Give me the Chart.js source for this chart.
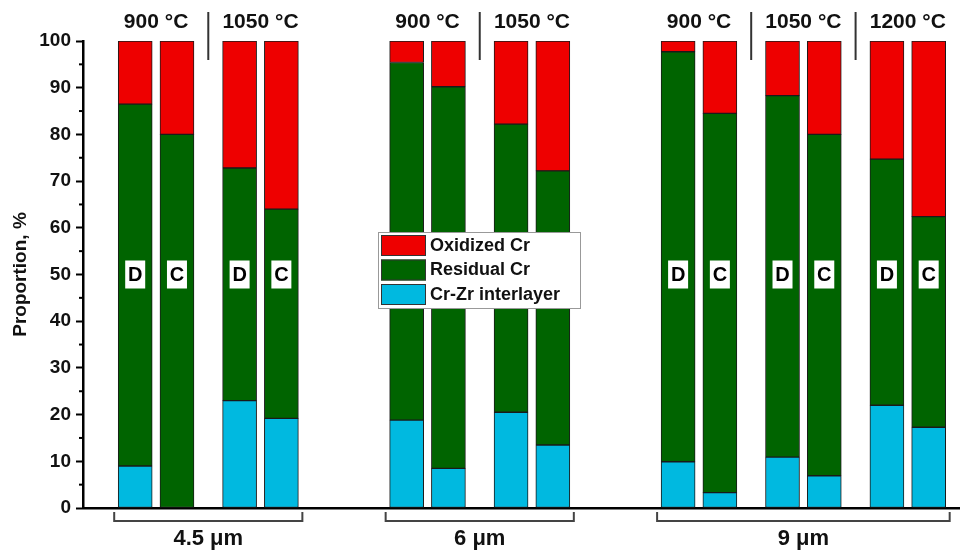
<!DOCTYPE html>
<html>
<head>
<meta charset="utf-8">
<script src="https://cdn.jsdelivr.net/npm/chart.js@4/dist/chart.umd.min.js"></script>
<style>
  html, body { margin: 0; padding: 0; background: #fff; }
  #wrap { width: 960px; height: 552px; position: relative; }
</style>
</head>
<body>
<div id="wrap"><canvas id="propChart"></canvas></div>
<script>
// bar positions on the x axis (pairs D/C, grouped by temperature and thickness)
const barPos = [0, 2, 5, 7, 13, 15, 18, 20, 26, 28, 31, 33, 36, 38];
const barType = ['D', 'C', 'D', 'C', 'D', 'C', 'D', 'C', 'D', 'C', 'D', 'C', 'D', 'C'];

const interlayer = [9, 0, 23, 19.2, 18.8, 8.5, 20.5, 13.5, 9.9, 3.3, 10.9, 6.9, 22, 17.3];
const residual = [77.5, 80, 49.8, 44.8, 76.6, 81.7, 61.7, 58.7, 87.8, 81.2, 77.4, 73.1, 52.7, 45.1];
const oxidized = [13.5, 20, 27.2, 36, 4.6, 9.8, 17.8, 27.8, 2.3, 15.5, 11.7, 20, 25.3, 37.6];

// temperature headers: label + centre position
const tempLabels = ['900 °C', '1050 °C', '900 °C', '1050 °C', '900 °C', '1050 °C', '1200 °C'];
const tempPos = [1, 6, 14, 19, 27, 32, 37];
const sepPos = [3.5, 16.5, 29.5, 34.5];

// thickness groups under the axis
const groupLabels = ['4.5 μm', '6 μm', '9 μm'];
const groupFrom = [0, 13, 26];
const groupTo = [7, 20, 38];

const yTicks = [0, 10, 20, 30, 40, 50, 60, 70, 80, 90, 100];

const RED = '#ee0000', GREEN = '#006400', CYAN = '#00b9e0';
const FONT = 'Liberation Sans, Arial, sans-serif';

function pts(arr) {
    return arr.map((v, i) => ({ x: barPos[i], y: v }));
}

const decorPlugin = {
    id: 'decor',
    afterDraw(chart) {
        const c = chart.ctx;
        const xs = chart.scales.x, ys = chart.scales.y;
        const half = 17;
        c.save();

        // minor ticks on y axis
        c.strokeStyle = '#000';
        c.lineWidth = 2;
        for (let v = 5; v < 100; v += 10) {
            const y = ys.getPixelForValue(v);
            c.beginPath();
            c.moveTo(chart.chartArea.left - 4, y);
            c.lineTo(chart.chartArea.left, y);
            c.stroke();
        }

        // D / C tags
        c.font = 'bold 20px ' + FONT;
        c.textAlign = 'center';
        c.textBaseline = 'middle';
        const yMid = ys.getPixelForValue(50);
        barPos.forEach((p, i) => {
            const x = xs.getPixelForValue(p);
            c.fillStyle = '#fff';
            c.fillRect(x - 10, yMid - 14, 20, 28);
            c.fillStyle = '#000';
            c.fillText(barType[i], x, yMid + 1);
        });

        // temperature headers
        c.font = 'bold 21px ' + FONT;
        c.fillStyle = '#111';
        tempLabels.forEach((t, i) => {
            c.fillText(t, xs.getPixelForValue(tempPos[i]), 22);
        });
        c.strokeStyle = '#333';
        c.lineWidth = 2;
        sepPos.forEach(p => {
            const x = xs.getPixelForValue(p);
            c.beginPath();
            c.moveTo(x, 12);
            c.lineTo(x, 60);
            c.stroke();
        });

        // group brackets
        c.strokeStyle = '#444';
        c.lineWidth = 2;
        c.font = 'bold 22px ' + FONT;
        groupLabels.forEach((g, i) => {
            const x1 = xs.getPixelForValue(groupFrom[i]) - half - 4;
            const x2 = xs.getPixelForValue(groupTo[i]) + half + 4;
            c.beginPath();
            c.moveTo(x1, 512);
            c.lineTo(x1, 521);
            c.lineTo(x2, 521);
            c.lineTo(x2, 512);
            c.stroke();
            c.fillStyle = '#111';
            c.fillText(g, (x1 + x2) / 2, 539);
        });

        // legend box
        const lx = 378, ly = 232;
        c.fillStyle = '#fff';
        c.fillRect(lx, ly, 202, 76);
        c.strokeStyle = '#999';
        c.lineWidth = 1;
        c.strokeRect(lx + 0.5, ly + 0.5, 202, 76);
        const items = chart.data.datasets.slice().reverse();
        c.font = 'bold 18px ' + FONT;
        c.textAlign = 'left';
        items.forEach((ds, i) => {
            const ry = ly + 3 + i * 24.5;
            c.fillStyle = ds.backgroundColor;
            c.fillRect(lx + 3, ry, 45, 21);
            c.strokeStyle = '#333';
            c.strokeRect(lx + 3.5, ry + 0.5, 44, 20);
            c.fillStyle = '#111';
            c.fillText(ds.label, lx + 52, ry + 11);
        });

        c.restore();
    }
};

new Chart(document.getElementById('propChart'), {
    type: 'bar',
    data: {
        datasets: [
            { label: 'Cr-Zr interlayer', data: pts(interlayer), backgroundColor: CYAN },
            { label: 'Residual Cr', data: pts(residual), backgroundColor: GREEN },
            { label: 'Oxidized Cr', data: pts(oxidized), backgroundColor: RED }
        ]
    },
    options: {
        responsive: true,
        maintainAspectRatio: false,
        animation: false,
        datasets: {
            bar: { barThickness: 34, borderColor: '#1a1a1a', borderWidth: 1, borderSkipped: false }
        },
        layout: { padding: { top: 41, right: 0, left: 0, bottom: 0 } },
        plugins: { legend: { display: false }, tooltip: { enabled: false } },
        scales: {
            x: {
                type: 'linear',
                stacked: true,
                offset: false,
                min: -2.5,
                max: 39.5,
                ticks: { display: false },
                grid: { display: false, offset: false },
                border: { display: true, color: '#000', width: 2.5 },
                afterFit: s => { s.height = 44; }
            },
            y: {
                stacked: true,
                min: 0,
                max: 100,
                afterBuildTicks: s => { s.ticks = yTicks.map(v => ({ value: v })); },
                ticks: {
                    color: '#111',
                    padding: 5,
                    font: { family: FONT, size: 19, weight: 'bold' }
                },
                grid: { drawOnChartArea: false, tickLength: 7, tickWidth: 2, tickColor: '#000' },
                border: { display: true, color: '#000', width: 2.5 },
                title: {
                    display: true,
                    text: 'Proportion, %',
                    color: '#111',
                    padding: { top: 9, bottom: 0 },
                    font: { family: FONT, size: 19, weight: 'bold' }
                },
                afterFit: s => { s.width = 83; }
            }
        }
    },
    plugins: [decorPlugin]
});
</script>
</body>
</html>
